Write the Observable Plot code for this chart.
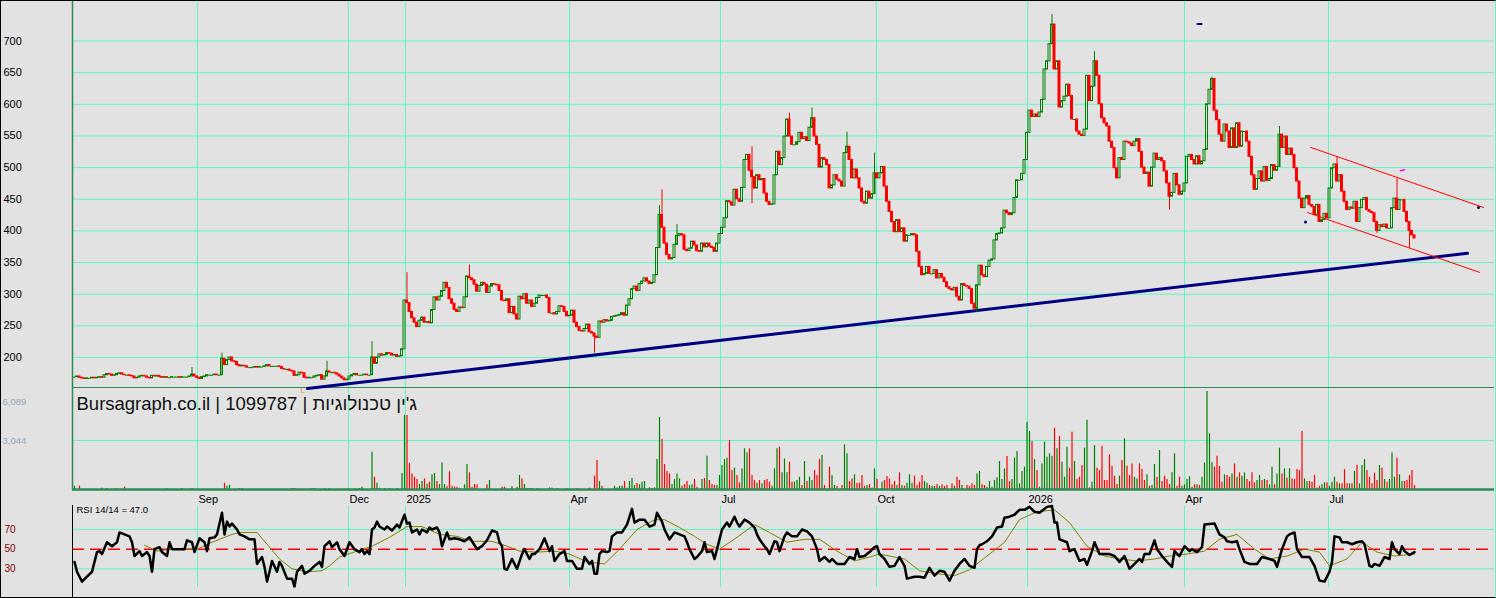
<!DOCTYPE html>
<html><head><meta charset="utf-8">
<script src="https://cdn.jsdelivr.net/npm/d3@7"></script>
<script src="https://cdn.jsdelivr.net/npm/@observablehq/plot@0.6"></script>
<style>
html,body{margin:0;padding:0;background:#e2e2e2;}
#chart{position:relative;width:1496px;height:598px;overflow:hidden;}
#chart svg{display:block;}
#frame{position:absolute;left:0;top:0;width:1496px;height:598px;box-sizing:border-box;border:1px solid #000;border-right-color:#62f6c4;pointer-events:none;}
</style></head><body><div id="chart"><div id="frame"></div></div>
<script>
// ---------- DATA ----------
const closes = [
169,170,168,167,166,167,167,168,167,168,
169,168,172,174,173,171,172,174,175,173,
172,172,171,170,167,168,170,171,170,168,
167,171,170,171,169,168,169,168,168,169,
169,169,168,169,169,169,170,173,170,168,
166,169,170,172,172,172,173,172,172,198,
188,196,200,194,193,188,186,187,186,184,
184,184,185,184,185,185,186,188,186,186,
186,186,185,182,181,181,179,178,171,172,
176,175,168,167,168,168,170,171,172,165,
170,178,176,176,175,173,170,167,164,165,
170,172,174,172,172,172,173,172,172,200,
190,200,205,203,204,207,206,203,204,201,
202,213,290,286,272,262,255,248,258,263,
255,256,254,275,295,290,296,305,318,310,
292,285,275,272,279,278,295,328,325,322,
315,304,313,318,315,302,312,316,315,314,
305,290,289,292,270,280,268,260,296,292,
300,285,290,280,285,294,298,298,298,294,
270,270,268,272,281,280,272,265,266,274,
255,248,242,241,245,252,240,238,233,231,
257,255,259,257,258,264,265,266,267,270,
266,282,292,308,312,305,316,320,325,320,
316,318,330,373,425,405,380,362,355,357,
378,392,395,393,370,368,372,383,377,368,
367,380,374,380,375,373,367,380,395,405,
420,447,445,440,465,450,446,468,512,520,
495,485,467,488,480,482,459,446,441,442,
488,525,504,515,549,576,549,536,536,540,
555,545,548,542,563,578,549,536,500,515,
512,504,467,472,488,481,478,470,523,533,
512,483,497,483,467,446,443,462,451,458,
491,483,491,501,470,446,430,414,398,417,
398,404,383,393,393,395,393,367,343,330,
332,343,332,332,338,325,332,326,319,311,
308,306,310,296,290,316,313,312,308,285,
277,314,345,330,327,343,353,355,385,395,
396,404,432,428,425,428,452,480,480,490,
512,555,590,580,584,580,587,607,655,668,
695,726,655,668,595,605,612,631,613,576,
576,557,552,550,560,645,605,628,668,645,
600,578,570,565,541,531,499,483,515,512,
541,540,538,534,541,545,525,500,490,492,
470,500,522,512,515,510,494,475,454,460,
490,472,457,462,475,517,520,512,505,518,
505,510,528,600,623,640,590,575,552,541,
568,557,531,562,531,570,533,557,557,541,
517,488,465,482,494,478,501,479,482,504,
495,501,552,531,549,520,530,520,499,478,
451,436,451,455,441,438,425,441,414,417,
427,420,467,499,505,478,488,462,446,433,
437,435,446,414,436,449,452,433,430,428,
414,400,409,406,410,404,404,436,451,433,
449,449,430,414,400,393,388];

const volumes = [
207,0,200,0,0,0,0,0,0,0,
0,80,0,60,0,0,60,60,0,0,
145,0,0,0,0,0,0,0,0,0,
0,0,0,0,0,0,0,60,0,0,
0,0,0,60,0,0,0,60,0,0,
0,0,0,0,0,0,0,0,0,0,
390,200,270,0,0,0,60,60,0,0,
0,0,0,0,0,0,0,0,0,0,
0,0,0,0,0,0,0,60,60,0,
0,0,0,0,0,60,60,0,0,0,
60,0,60,0,0,0,0,0,0,0,
0,0,60,0,60,145,0,0,0,2320,
765,390,80,0,60,0,60,0,0,60,
0,990,4600,4600,1615,970,765,620,310,500,
660,330,455,910,990,500,310,1655,310,186,
1100,200,145,145,80,0,290,1550,1035,145,
310,290,0,0,0,290,560,0,0,0,
0,145,145,0,0,186,0,145,870,660,
310,60,60,60,0,60,0,0,0,0,
100,100,0,60,0,0,0,60,0,0,
0,60,0,0,0,0,80,0,830,1800,
500,200,0,0,0,0,200,100,200,200,
500,100,500,680,250,370,290,455,500,0,
100,60,100,1860,4470,3100,1550,1120,970,310,
620,970,660,200,310,500,250,290,620,145,
0,620,680,2070,560,310,250,250,870,1490,
1860,1945,3040,1180,1325,870,415,1280,2525,2275,
2525,870,560,390,560,350,560,620,455,200,
1280,2525,2630,1035,1900,1035,1700,455,455,560,
765,250,1740,500,765,560,1180,870,1860,2110,
250,0,1390,870,250,186,0,250,2770,2215,
500,660,910,390,390,870,200,250,310,100,
1280,620,0,455,560,800,660,290,500,250,
1035,250,200,390,910,390,830,250,455,870,
500,390,250,200,186,310,186,290,186,250,
0,350,200,765,560,250,0,250,186,350,
250,970,1120,290,250,145,500,145,560,725,
1740,620,1280,2050,500,620,1945,2360,350,1120,
1390,4180,3600,2980,1860,1180,145,1590,2940,2010,
2215,2070,3810,2525,3310,1700,765,2630,1325,3560,
1740,620,765,1490,2570,4300,100,455,2730,1325,
1180,2690,560,560,2150,1450,830,310,830,1800,
3150,1450,870,1590,765,660,1590,1240,560,910,
200,250,1550,765,2420,500,830,620,310,1035,
2215,200,765,200,290,620,800,145,290,290,
250,765,1655,6089,3460,1655,1390,2070,1430,455,
910,870,765,970,1590,765,1035,830,1035,620,
500,1035,415,560,870,560,620,560,290,1390,
290,970,2570,970,1280,700,1280,660,620,1240,
1180,3600,660,500,500,455,870,100,200,290,
415,415,200,455,765,455,350,350,1240,350,
350,350,1120,1490,350,1490,1860,1180,765,350,
1015,560,1490,1325,620,455,620,2275,765,1945,
910,500,500,560,870,1180,250];

// notable wick extremes [bar, price]
const wickHi = [[47,184],[59,207],[101,194],[119,225],[133,334],[158,346],[234,440],[235,465],[241,410],[271,533],[286,586],[295,594],[309,556],[320,523],[391,742],[408,683],[455,643],[482,565],[505,517],[529,483]];
const wickLo = [[208,207],[271,443],[361,271],[438,433],[521,396],[534,372]];

const rsiPts = [[0,37],[1,27],[3,17],[5,22],[7,27],[9,47],[10,48],[11,45],[13,57],[15,53],[17,57],[18,67],[20,65],[22,63],[23,57],[24,43],[26,48],[27,43],[29,47],[30,43],[31,27],[32,50],[34,52],[35,47],[37,43],[38,57],[39,50],[42,50],[44,50],[45,59],[47,57],[48,47],[50,61],[52,57],[53,48],[54,61],[56,62],[57,65],[59,87],[60,65],[61,78],[62,73],[63,76],[65,70],[66,65],[68,63],[70,60],[72,60],[73,35],[75,42],[76,32],[77,17],[78,27],[79,38],[81,27],[82,37],[83,33],[85,20],[87,20],[88,12],[89,27],[91,33],[92,25],[94,28],[96,33],[98,37],[99,32],[100,53],[102,58],[103,52],[105,57],[106,50],[108,43],[110,57],[112,50],[114,47],[115,50],[116,45],[117,48],[118,45],[119,70],[120,72],[121,78],[122,73],[124,70],[125,73],[127,69],[129,75],[130,72],[132,85],[133,76],[134,77],[135,67],[137,70],[138,65],[139,70],[141,67],[142,72],[143,70],[145,72],[146,67],[147,53],[148,60],[149,67],[150,60],[152,61],[154,60],[156,58],[158,62],[159,58],[161,50],[163,53],[165,59],[167,69],[169,67],[170,57],[171,53],[172,30],[173,29],[175,40],[177,30],[179,45],[180,50],[182,40],[183,45],
[184,45],[186,50],[188,61],[190,48],[191,53],[192,38],[194,45],[196,48],[197,38],[199,38],[201,30],[203,30],[204,42],[206,35],[207,38],[208,25],[209,25],[210,45],[211,48],[213,47],[214,48],[215,63],[217,67],[219,67],[221,75],[223,91],[224,77],[226,80],[228,80],[230,73],[232,75],[233,87],[235,78],[236,70],[238,60],[240,67],[242,65],[244,63],[245,57],[246,50],[248,40],[249,42],[251,48],[252,57],[253,47],[255,48],[256,40],[258,60],[259,70],[261,77],[262,73],[264,83],[265,77],[266,73],[268,80],[270,77],[272,72],[273,65],[274,60],[276,53],[277,50],[278,45],[280,58],[281,57],[282,48],[284,63],[285,67],[287,63],[289,63],[291,70],[293,68],[295,63],[297,50],[298,38],[300,42],[302,37],[303,40],[305,35],[308,35],[310,42],[312,40],[313,50],[314,42],[316,43],[318,47],[320,52],[321,53],[322,45],[324,40],[326,32],[328,33],[330,42],[332,33],[333,20],[336,22],[338,22],[340,21],[342,31],[344,23],[346,28],[348,27],[350,18],[352,28],[354,35],[356,40],[358,33],[360,31],[361,50],[362,54],[363,55],
[365,58],[367,63],[369,72],[371,73],[372,82],[374,83],[376,85],[378,90],[380,90],[382,93],[384,88],[386,87],[387,89],[389,93],[391,94],[392,77],[393,77],[394,60],[396,58],[397,57],[398,48],[400,50],[402,38],[404,40],[405,34],[407,48],[408,57],[410,45],[411,45],[414,45],[416,43],[418,37],[420,43],[422,30],[424,35],[426,40],[427,37],[428,45],[430,45],[432,59],[433,50],[435,43],[437,37],[439,32],[440,48],[442,43],[444,53],[446,48],[447,50],[449,47],[451,52],[452,75],[456,76],[458,65],[460,62],[461,58],[463,57],[465,58],[466,50],[468,37],[470,35],[473,35],[475,42],[478,40],[480,38],[481,32],[483,50],[485,63],[486,65],[488,67],[489,50],[491,42],[494,42],[496,33],[498,18],[500,17],[502,27],[503,37],[504,63],[506,62],[507,57],[509,57],[511,55],[513,57],[515,58],[516,55],[518,33],[519,32],[520,35],[522,33],[524,42],[526,40],[527,57],[528,50],[530,45],[531,53],[532,48],[534,44],[536,47]];

const maPts = [[28,54],[33,48],[39,50],[49,50],[55,57],[63,65],[66,67],[73,67],[77,55],[82,40],[87,30],[93,27],[99,28],[102,33],[106,42],[113,48],[119,53],[126,62],[133,73],[139,73],[146,65],[153,63],[159,58],[167,58],[173,53],[178,48],[185,47],[192,48],[198,45],[205,37],[212,35],[218,50],[225,70],[232,80],[236,80],[242,72],[248,63],[253,55],[258,50],[265,62],[272,75],[278,67],[285,57],[292,60],[298,60],[305,48],[312,38],[318,42],[322,45],[332,40],[338,28],[345,25],[352,23],[358,29],[365,43],[372,57],[378,80],[385,88],[392,90],[398,77],[405,53],[412,43],[418,40],[425,38],[432,40],[438,43],[445,45],[452,48],[458,60],[465,65],[472,50],[478,40],[485,43],[492,50],[498,47],[502,33],[509,40],[515,57],[521,47],[528,43],[536,45]];

const monthLabels = ["Sep","Dec","2025","Apr","Jul","Oct","2026","Apr","Jul"];
const monthPos = [49.2,109.6,132.4,198,258.4,320.8,381.2,444,501.6];
const priceTicks = [200,250,300,350,400,450,500,550,600,650,700];
const volTicks = [3044,6089];
const rsiTicks = [30,50,70];

const blueTrend = [{i:93.2,p:151},{i:557.2,p:364.6}];
const redUpper = [{i:494.4,p:532},{i:563.6,p:437}];
const redLower = [{i:493.2,p:429},{i:562,p:334.5}];
const navyDash = [{i:449.2,p:727},{i:450.8,p:727}];
const pinkDash = [{i:530.4,p:495},{i:532,p:496.5}];
const navyDots = [{i:492.4,p:414},{i:561.6,p:437}];

const titleText = "Bursagraph.co.il | 1099787 | ג'ין טכנולוגיות";
const rsiTitle = "RSI 14/14 = 47.0";

// ---------- BUILD ----------
const GRID = "#62f6c4", AX = "#2e8b57", GREEN = "#008000", RED = "#ff0000";
const hiMap = new Map(wickHi), loMap = new Map(wickLo);
const bars = closes.map((c, i) => {
  const o = i === 0 ? c : closes[i - 1];
  const hi = Math.max(o, c, hiMap.has(i) ? hiMap.get(i) : -Infinity);
  const lo = Math.min(o, c, loMap.has(i) ? loMap.get(i) : Infinity);
  return {i, o, c, hi, lo, up: c >= o, v: volumes[i]};
});
const upBars = bars.filter(d => d.up && d.c !== d.o);
const downBars = bars.filter(d => !d.up);
const flatBars = bars.filter(d => d.c === d.o);
const wickBars = bars.filter(d => d.hi > Math.max(d.o, d.c) || d.lo < Math.min(d.o, d.c));
const months = monthPos.map((p, k) => ({p, label: monthLabels[k]}));

const common = {
  width: 1496, marginLeft: 72, marginRight: 2, marginTop: 0, marginBottom: 0,
  style: {background: "#e2e2e2", fontFamily: "'Liberation Sans', Arial, sans-serif", overflow: "visible"}
};
const X = {domain: [-0.8, 568], range: [72, 1494], axis: null};

const price = Plot.plot({
  ...common, height: 388, x: X,
  y: {domain: [151, 764], range: [388, 0], axis: null},
  marks: [
    Plot.ruleY(priceTicks, {stroke: GRID, strokeWidth: 1}),
    Plot.ruleX(monthPos, {stroke: GRID, strokeWidth: 1}),
    Plot.ruleX([-0.8], {stroke: AX, strokeWidth: 1.5}),
    Plot.ruleY([152.6], {stroke: AX, strokeWidth: 1}),
    Plot.text(priceTicks, {y: d => d, text: d => String(d), frameAnchor: "left", textAnchor: "start", dx: -69, fontSize: 11, fill: "#000"}),
    Plot.line(blueTrend, {x: "i", y: "p", stroke: "#000080", strokeWidth: 3}),
    Plot.line(redUpper, {x: "i", y: "p", stroke: RED, strokeWidth: 1}),
    Plot.line(redLower, {x: "i", y: "p", stroke: RED, strokeWidth: 1}),
    Plot.ruleX(wickBars, {x: "i", y1: "lo", y2: "hi", stroke: d => d.up ? GREEN : RED, strokeWidth: 1}),
    Plot.rect(upBars, {x1: d => d.i - 0.4, x2: d => d.i + 0.4, y1: "o", y2: "c", fill: "none", stroke: GREEN, strokeWidth: 1}),
    Plot.rect(downBars, {x1: d => d.i - 0.4, x2: d => d.i + 0.4, y1: "o", y2: "c", fill: RED, stroke: RED, strokeWidth: 1}),
    Plot.ruleY(flatBars, {y: "c", x1: d => d.i - 0.6, x2: d => d.i + 0.6, stroke: GREEN, strokeWidth: 1}),
    Plot.line(navyDash, {x: "i", y: "p", stroke: "#000080", strokeWidth: 2}),
    Plot.line(pinkDash, {x: "i", y: "p", stroke: "#ff00ff", strokeWidth: 1.5}),
    Plot.dot(navyDots, {x: "i", y: "p", r: 1.5, fill: "#000080"})
  ]
});

const vol = Plot.plot({
  ...common, height: 102, x: X,
  y: {domain: [0, 6089], range: [101, 3], axis: null},
  marks: [
    Plot.ruleY([3044], {stroke: GRID, strokeWidth: 1}),
    Plot.ruleX(monthPos, {stroke: GRID, strokeWidth: 1}),
    Plot.ruleX([-0.8], {stroke: AX, strokeWidth: 1.5}),
    Plot.ruleX(bars.filter(d => d.v > 0 && d.up), {x: "i", y1: 0, y2: "v", stroke: GREEN, strokeWidth: 1.2}),
    Plot.ruleX(bars.filter(d => d.v > 0 && !d.up), {x: "i", y1: 0, y2: "v", stroke: RED, strokeWidth: 1.2}),
    Plot.ruleY([0], {stroke: AX, strokeWidth: 2.5}),
    Plot.text([volTicks[1]], {y: d => d, text: d => d3.format(",")(d), frameAnchor: "left", textAnchor: "start", dx: -70, dy: 10, fontSize: 9.5, fill: "#94a6bd"}),
    Plot.text([volTicks[0]], {y: d => d, text: d => d3.format(",")(d), frameAnchor: "left", textAnchor: "start", dx: -70, fontSize: 9.5, fill: "#94a6bd"}),
    Plot.text([titleText], {frameAnchor: "top-left", dx: 4, dy: 16, textAnchor: "start", lineAnchor: "middle", fontSize: 18.5, fill: "#111"}),
    Plot.text([{i: 91.2}], {x: "i", text: () => "L", frameAnchor: "top", dy: 2, lineAnchor: "middle", fontSize: 8, fill: "#e0a000"})
  ]
});

const rsi = Plot.plot({
  ...common, height: 108, x: X,
  y: {domain: [0, 100], range: [107.8, 9.5], axis: null},
  marks: [
    Plot.ruleY([30, 70], {stroke: GRID, strokeWidth: 1}),
    Plot.ruleX(monthPos, {y1: 11, y2: 94, stroke: GRID, strokeWidth: 1}),
    Plot.ruleY([50], {stroke: RED, strokeWidth: 1.5, strokeDasharray: "12,6"}),
    Plot.ruleX([-0.8], {y1: 0, y2: 94.5, stroke: "#000", strokeWidth: 1}),
    Plot.text(months, {x: "p", text: "label", frameAnchor: "top", dx: 1, dy: 9, textAnchor: "start", lineAnchor: "middle", fontSize: 11, fill: "#000"}),
    Plot.text(rsiTicks, {y: d => d, text: d => String(d), frameAnchor: "left", textAnchor: "start", dx: -68, fontSize: 10, fill: "#800000"}),
    Plot.text([rsiTitle], {frameAnchor: "top-left", dx: 4, dy: 19, textAnchor: "start", lineAnchor: "middle", fontSize: 9.5, fill: "#000"}),
    Plot.line(maPts, {x: d => d[0], y: d => d[1], stroke: "#808000", strokeWidth: 1}),
    Plot.line(rsiPts, {x: d => d[0], y: d => d[1], stroke: "#000", strokeWidth: 2.5})
  ]
});

const chart = document.getElementById("chart");
const frame = document.getElementById("frame");
chart.insertBefore(price, frame);
chart.insertBefore(vol, frame);
chart.insertBefore(rsi, frame);
</script></body></html>
